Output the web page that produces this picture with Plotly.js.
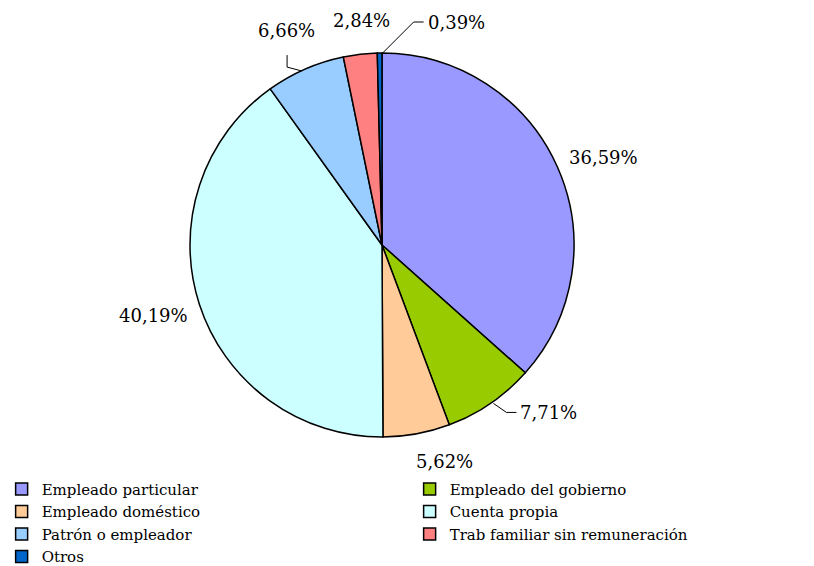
<!DOCTYPE html>
<html>
<head>
<meta charset="utf-8">
<script src="https://cdn.plot.ly/plotly-3.0.1.min.js"></script>
<style>
	body { margin: 0; background: #fff; }
	#myDiv { width: 814px; height: 566px; }
</style>
</head>
<body>
<div id="myDiv"></div>
<script>
// Categorias y porcentajes (en el sentido de las agujas del reloj desde arriba)
let categorias = ["Empleado particular", "Empleado del gobierno", "Empleado doméstico", "Cuenta propia",
	"Patrón o empleador", "Trab familiar sin remuneración", "Otros"]
let porcentajes = [36.59, 7.71, 5.62, 40.19, 6.66, 2.84, 0.39]
let colores = ["#9999FF", "#99CC00", "#FFCC99", "#CCFFFF", "#99CCFF", "#FF8080", "#0066CC"]

// Ajuste de las etiquetas respecto al borde del sector (px), anclaje y tipo de guia
let etqDx = [10, 28, 28, -9, -19, 1, 46]
let etqDy = [-9, 9, 28, 11, -39, -34, -31]
let etqAncla = ['left', 'left', 'center', 'right', 'center', 'center', 'left']
let etqGuia = ['', 'codo', '', '', 'vertical', '', 'codo']

let W = 814, H = 566
let cx = 382, cy = 245, r = 192
let fuente = 'DejaVu Serif'

function px2paper(x, y){
	return [x / W, 1 - y / H]
	}

// Etiquetas y lineas guia calculadas a partir de los porcentajes
let total = porcentajes.reduce((a, b) => a + b, 0)
let anotaciones = []
let guias = []
let acum = 0
for (let i = 0; i < porcentajes.length; i++){
	let medio = (acum + porcentajes[i] / 2) / total * 2 * Math.PI
	acum += porcentajes[i]
	let px = cx + r * Math.sin(medio)
	let py = cy - r * Math.cos(medio)
	let ax = px + etqDx[i]
	let ay = py + etqDy[i]
	let pos = px2paper(ax, ay)
	anotaciones.push({
		xref: 'paper', yref: 'paper',
		x: pos[0], y: pos[1],
		xanchor: etqAncla[i], yanchor: 'middle',
		text: porcentajes[i].toFixed(2).replace('.', ',') + '%',
		showarrow: false,
		font: {family: fuente, size: 18, color: '#000'}
		})
	let puntos = []
	if (etqGuia[i] == 'codo'){
		puntos = [[px + 3, py], [ax - 12, ay], [ax - 2, ay]]
		}
	else if (etqGuia[i] == 'vertical'){
		puntos = [[px - 3, py + 2], [ax + 1, py - 2], [ax + 1, ay + 25]]
		}
	if (puntos.length > 0){
		let camino = puntos.map((p, k) => {
			let q = px2paper(p[0], p[1])
			return (k == 0 ? 'M' : 'L') + q[0] + ',' + q[1]
			}).join(' ')
		guias.push({
			type: 'path', xref: 'paper', yref: 'paper',
			path: camino,
			line: {color: '#000', width: 1}
			})
		}
	}

var data = [
	{
	type: 'pie',
	labels: categorias,
	values: porcentajes,
	sort: false,
	direction: 'clockwise',
	rotation: 0,
	marker: {
		colors: colores,
		line: {color: '#000', width: 1.5}
		},
	textinfo: 'none',
	hoverinfo: 'none',
	domain: {
		x: [(cx - r) / W, (cx + r) / W],
		y: [(H - cy - r) / H, (H - cy + r) / H]
		}
	}
	]

var layout = {
	width: W,
	height: H,
	margin: {l: 0, r: 0, t: 0, b: 0, autoexpand: false},
	paper_bgcolor: '#fff',
	font: {family: fuente, size: 15, color: '#000'},
	showlegend: true,
	legend: {
		orientation: 'h',
		xref: 'paper',
		yref: 'paper',
		x: 0.002,
		y: -0.012,
		xanchor: 'left',
		yanchor: 'bottom',
		entrywidth: 363,
		entrywidthmode: 'pixels',
		traceorder: 'normal',
		font: {family: fuente, size: 15, color: '#000'},
		bgcolor: 'rgba(0,0,0,0)'
		},
	annotations: anotaciones,
	shapes: guias
	}

Plotly.newPlot('myDiv', data, layout, {staticPlot: true})
</script>
</body>
</html>
